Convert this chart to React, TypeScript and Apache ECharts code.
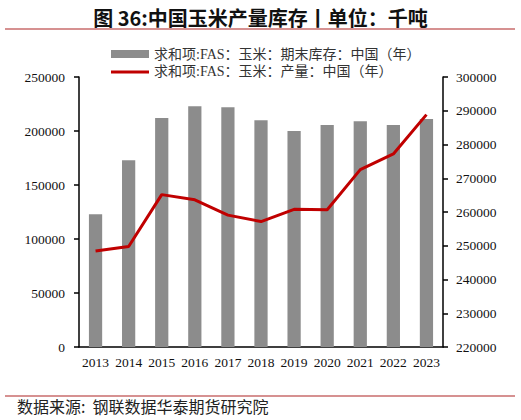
import React, { useEffect, useRef } from "react";
import * as echarts from "echarts";

const years = ["2013", "2014", "2015", "2016", "2017", "2018", "2019", "2020", "2021", "2022", "2023"];
const endingStocks = [123000, 173000, 212000, 223000, 222000, 210000, 200000, 205500, 209000, 205500, 211000];
const production = [248453, 249764, 265143, 263613, 259071, 257174, 260779, 260670, 272552, 277203, 288842];
const barName = "求和项:FAS：玉米：期末库存：中国（年）";
const lineName = "求和项:FAS：玉米：产量：中国（年）";
const titleText = "图 36:中国玉米产量库存丨单位：千吨";
const sourceText = "数据来源:  钢联数据华泰期货研究院";

export default function App() {
  const ref = useRef<HTMLDivElement>(null);
  useEffect(() => {
    document.body.style.margin = "0";
    const chart = echarts.init(ref.current!, undefined, { renderer: "svg" });
    const serif = "'Liberation Serif', 'Times New Roman', 'Noto Sans CJK SC', serif";
    chart.setOption({
      animation: false,
      backgroundColor: "#ffffff",
      title: {
        text: titleText,
        left: "center",
        top: 2,
        textStyle: { fontSize: 20, fontWeight: "bold", color: "#111", fontFamily: "'Noto Sans CJK SC', sans-serif" },
      },
      graphic: [
        { type: "line", shape: { x1: 5, y1: 29, x2: 515, y2: 29 }, style: { stroke: "#c86c6c", lineWidth: 1.5 } },
        { type: "line", shape: { x1: 5, y1: 396, x2: 515, y2: 396 }, style: { stroke: "#c86c6c", lineWidth: 1.5 } },
        {
          type: "text",
          left: 17,
          top: 398,
          style: { text: sourceText, fontSize: 16, fill: "#222", fontFamily: "'Noto Sans CJK SC', sans-serif" },
        },
      ],
      legend: {
        orient: "vertical",
        left: 106,
        top: 42,
        itemGap: 4,
        itemWidth: 38,
        itemHeight: 8,
        textStyle: { fontSize: 14, color: "#333", fontFamily: serif },
        data: [
          { name: barName, icon: "rect" },
          { name: lineName, icon: "path://M0,0H38V3H0Z" },
        ],
      },
      grid: { left: 79, right: 78, top: 77, bottom: 73 },
      xAxis: {
        type: "category",
        data: years,
        axisLine: { lineStyle: { color: "#000", width: 1.5 } },
        axisTick: { length: 5, lineStyle: { color: "#000", width: 1.5 } },
        axisLabel: { interval: 0, margin: 9, fontSize: 13.5, color: "#111", fontFamily: serif },
      },
      yAxis: [
        {
          type: "value",
          min: 0,
          max: 250000,
          interval: 50000,
          splitLine: { show: false },
          axisLine: { show: true, lineStyle: { color: "#000", width: 1.5 } },
          axisTick: { show: true, length: 5, lineStyle: { color: "#000", width: 1.5 } },
          axisLabel: { margin: 14, fontSize: 13.5, color: "#111", fontFamily: serif, formatter: (v: number) => String(v) },
        },
        {
          type: "value",
          min: 220000,
          max: 300000,
          interval: 10000,
          position: "right",
          splitLine: { show: false },
          axisLine: { show: true, lineStyle: { color: "#000", width: 1.5 } },
          axisTick: { show: true, length: 5, lineStyle: { color: "#000", width: 1.5 } },
          axisLabel: { margin: 13, fontSize: 13.5, color: "#111", fontFamily: serif, formatter: (v: number) => String(v) },
        },
      ],
      series: [
        {
          name: barName,
          type: "bar",
          data: endingStocks,
          yAxisIndex: 0,
          barWidth: "40%",
          itemStyle: { color: "#8c8c8c" },
        },
        {
          name: lineName,
          type: "line",
          data: production,
          yAxisIndex: 1,
          symbol: "none",
          lineStyle: { color: "#c00000", width: 3 },
          itemStyle: { color: "#c00000" },
        },
      ],
    });
    return () => chart.dispose();
  }, []);
  return <div ref={ref} style={{ width: 521, height: 420 }} />;
}
